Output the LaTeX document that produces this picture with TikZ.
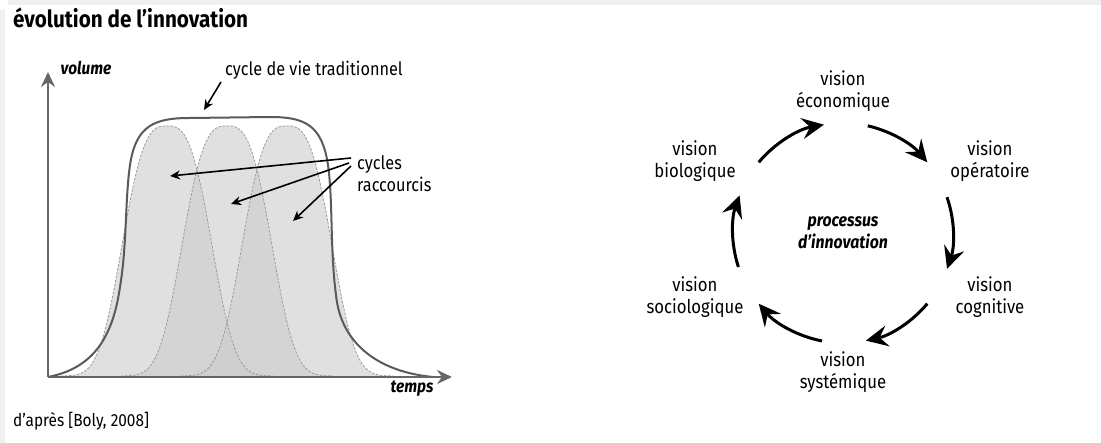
\documentclass[tikz,border=0pt]{standalone}
\usepackage{fontspec}
\setmainfont{Fira Sans}[FakeStretch=0.88]
\usetikzlibrary{arrows.meta, positioning, calc}
\definecolor{axisgray}{HTML}{666666}
\definecolor{curvegray}{HTML}{5a5a5a}
\definecolor{dashgray}{HTML}{9a9a9a}
\definecolor{framegray}{HTML}{f0f0f0}

\begin{document}
\begin{tikzpicture}[x=1pt, y=-1pt,
    lbl/.style={inner sep=0pt, font=\fontsize{18.5}{22}\selectfont},
    vis/.style={align=center, inner sep=0pt, font=\fontsize{19}{22}\selectfont},
    axis/.style={axisgray, line width=2pt, -{Stealth[length=15pt, width=14pt, inset=5pt]}},
    bell/.style={fill=gray!40, fill opacity=0.6},
    belledge/.style={dashgray, dash pattern=on 2.5pt off 1.5pt, line width=0.8pt},
    pointer/.style={black, line width=1.6pt, -{Stealth[length=10pt, width=9pt, inset=3pt]}},
    turn/.style={black, line width=3pt, -{Stealth[length=22pt, width=21pt, inset=8pt]}}]
  \useasboundingbox (0,0) rectangle (1101,443);
  % cadre
  \fill[framegray] (0,10) rectangle (5,443);
  \fill[framegray] (8,0) rectangle (1101,5);
  \node[anchor=base west, inner sep=0pt, font=\fontsize{23.5}{26}\selectfont\bfseries] (titre) at (13,28) {évolution de l’innovation};

  % courbes de vie
  \coordinate (O) at (48,377);
  \coordinate (ytop) at (48,72);
  \coordinate (xend) at (452,377);
  \foreach \pk in {167,227,287} {
    \fill[bell] plot[domain=-106:106, samples=70, smooth] ({\pk+\x}, {376-250*exp(-pow(abs(\x)/52,3))}) -- cycle;
  }
  \foreach \pk in {167,227,287} {
    \draw[belledge] plot[domain=-106:106, samples=70, smooth] ({\pk+\x}, {376-250*exp(-pow(abs(\x)/52,3))});
  }
  \draw[curvegray, line width=2pt] (O) .. controls (95,368) and (113,335) .. (120,287)
    .. controls (127,245) and (125,200) .. (130,165)
    .. controls (136,125) and (155,118) .. (190,118) -- (270,117)
    .. controls (305,117) and (322,125) .. (328,165)
    .. controls (333,200) and (330,250) .. (336,295)
    .. controls (341,345) and (380,372) .. (433,377);
  \draw[axis] (O) -- (ytop);
  \draw[axis] (O) -- (xend);
  \node[lbl, font=\fontsize{17.5}{22}\selectfont\bfseries\itshape] (vol) at (86,68) {volume};
  \node[lbl, font=\fontsize{17.5}{22}\selectfont\bfseries\itshape] (tps) at (412,389) {temps};

  \node[lbl, anchor=west] (trad) at (225,70) {cycle de vie traditionnel};
  \coordinate (tradpt) at (204,110);
  \draw[pointer] ($(trad.west)+(-4,12)$) -- (tradpt);
  \node[lbl, anchor=west, align=left] (cyc) at (357,174) {cycles\\raccourcis};
  \coordinate (c1) at (170,176);
  \coordinate (c2) at (231,204);
  \coordinate (c3) at (293,221);
  \draw[pointer] ($(cyc.west)+(-6,-16)$) -- (c1);
  \draw[pointer] ($(cyc.west)+(-8,-11)$) -- (c2);
  \draw[pointer] ($(cyc.west)+(-6,-8)$) -- (c3);

  \node[lbl, anchor=base west, font=\fontsize{17.5}{20}\selectfont] (src) at (13,427) {d’après [Boly, 2008]};

  % processus d'innovation
  \coordinate (ctr) at (843,233);
  \node[vis] (eco) at (843,91) {vision\\économique};
  \node[vis] (ope) at (990,161) {vision\\opératoire};
  \node[vis] (cog) at (990,297) {vision\\cognitive};
  \node[vis] (sys) at (843,372) {vision\\systémique};
  \node[vis] (soc) at (695,297) {vision\\sociologique};
  \node[vis] (bio) at (695,161) {vision\\biologique};
  \node[vis, font=\fontsize{18}{22}\selectfont\bfseries\itshape] (proc) at (ctr) {processus\\d’innovation};
  \foreach \a/\b [count=\i] in {-140/-100, -77/-40, -19/19, 40/78, 101/140, 162/200} {
    \coordinate (s\i) at ($(ctr)+(\a:110)$);
    \draw[turn] (s\i) arc[start angle=\a, end angle=\b, radius=110];
  }
\end{tikzpicture}
\end{document}
